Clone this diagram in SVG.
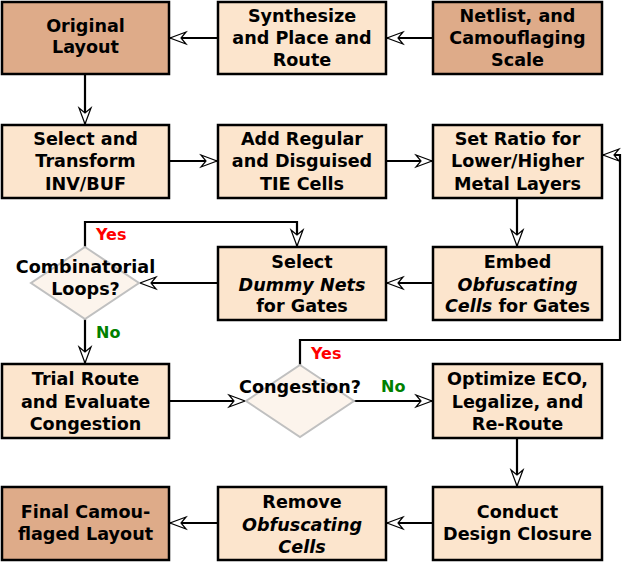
<svg xmlns="http://www.w3.org/2000/svg" width="623" height="562" viewBox="0 0 623 562">
<style>
.box{stroke:#000;stroke-width:2.5}
.lt{fill:#fce5cd}
.dk{fill:#deab89}
.dia{fill:#fcf4ec;stroke:#c0c0c0;stroke-width:2}
text{font-family:"DejaVu Sans","Liberation Sans",sans-serif;font-weight:bold;font-size:17.6px;text-anchor:middle;fill:#000}
.i{font-style:italic}
.yes{fill:#ff0000;font-size:16px;text-anchor:start}
.no{fill:#008000;font-size:16px;text-anchor:start}
.c{fill:none;stroke:#000;stroke-width:2.2;marker-end:url(#ah)}
</style>
<defs>
<marker id="ah" markerUnits="userSpaceOnUse" markerWidth="18" markerHeight="14" refX="16" refY="6" orient="auto" overflow="visible">
<path d="M0,0 L16,6 L0,12 L5,6 Z" fill="#fff" stroke="#000" stroke-width="1.2" stroke-linejoin="miter"/>
</marker>
</defs>
<g id="connectors">
<path class="c" d="M218,38 H170"/>
<path class="c" d="M433,38 H387"/>
<path class="c" d="M85,74 V124"/>
<path class="c" d="M169,161 H217"/>
<path class="c" d="M386,161 H432"/>
<path class="c" d="M517,198 V246"/>
<path class="c" d="M433,283 H387"/>
<path class="c" d="M218,283 H140"/>
<path class="c" d="M85,247 V222 H297 V246"/>
<path class="c" d="M85,319 V363"/>
<path class="c" d="M169,401 H245"/>
<path class="c" d="M354,401 H432"/>
<path class="c" d="M300,365 V340 H620 V155 H603"/>
<path class="c" d="M517,438 V486"/>
<path class="c" d="M433,523 H387"/>
<path class="c" d="M218,523 H170"/>
<text class="yes" x="96" y="240">Yes</text>
<text class="no" x="96" y="338">No</text>
<text class="yes" x="311" y="359">Yes</text>
<text class="no" x="381" y="392">No</text>
</g>
<g id="original">
<rect class="box dk" x="2" y="2" width="167" height="72"/>
<text x="85.5" y="32">Original</text>
<text x="85.5" y="53">Layout</text>
</g>
<g id="synth">
<rect class="box lt" x="218" y="2" width="168" height="72"/>
<text x="302" y="22">Synthesize</text>
<text x="302" y="44">and Place and</text>
<text x="302" y="66">Route</text>
</g>
<g id="netlist">
<rect class="box dk" x="433" y="2" width="169" height="72"/>
<text x="517.5" y="22">Netlist, and</text>
<text x="517.5" y="44">Camouflaging</text>
<text x="517.5" y="66">Scale</text>
</g>
<g id="select">
<rect class="box lt" x="2" y="125" width="167" height="73"/>
<text x="85.5" y="145">Select and</text>
<text x="85.5" y="167">Transform</text>
<text x="85.5" y="189.5">INV/BUF</text>
</g>
<g id="addtie">
<rect class="box lt" x="218" y="125" width="168" height="73"/>
<text x="302" y="145">Add Regular</text>
<text x="302" y="167">and Disguised</text>
<text x="302" y="189.5">TIE Cells</text>
</g>
<g id="ratio">
<rect class="box lt" x="433" y="125" width="169" height="73"/>
<text x="517.5" y="145">Set Ratio for</text>
<text x="517.5" y="167">Lower/Higher</text>
<text x="517.5" y="189.5">Metal Layers</text>
</g>
<g id="dummy">
<rect class="box lt" x="218" y="247" width="168" height="73"/>
<text x="302" y="268">Select</text>
<text x="302" y="290.5"><tspan class="i">Dummy Nets</tspan></text>
<text x="302" y="312">for Gates</text>
</g>
<g id="embed">
<rect class="box lt" x="433" y="247" width="169" height="73"/>
<text x="517.5" y="268">Embed</text>
<text x="517.5" y="290.5" class="i">Obfuscating</text>
<text x="517.5" y="312"><tspan class="i">Cells</tspan> for Gates</text>
</g>
<g id="loops">
<polygon class="dia" points="85,247 139,283 85,319 31,283"/>
<text x="85.5" y="273">Combinatorial</text>
<text x="85.5" y="295">Loops?</text>
</g>
<g id="trial">
<rect class="box lt" x="2" y="364" width="167" height="74"/>
<text x="85.5" y="385">Trial Route</text>
<text x="85.5" y="407.5">and Evaluate</text>
<text x="85.5" y="429.5">Congestion</text>
</g>
<g id="congestion">
<polygon class="dia" points="300,365 354,401 300,437 246,401"/>
<text x="300" y="392.5">Congestion?</text>
</g>
<g id="optimize">
<rect class="box lt" x="433" y="364" width="169" height="74"/>
<text x="517.5" y="385">Optimize ECO,</text>
<text x="517.5" y="407.5">Legalize, and</text>
<text x="517.5" y="429.5">Re-Route</text>
</g>
<g id="final">
<rect class="box dk" x="2" y="487" width="167" height="73"/>
<text x="85.5" y="518">Final Camou-</text>
<text x="85.5" y="539.5">flaged Layout</text>
</g>
<g id="remove">
<rect class="box lt" x="218" y="487" width="168" height="73"/>
<text x="302" y="508">Remove</text>
<text x="302" y="530.5" class="i">Obfuscating</text>
<text x="302" y="552.5" class="i">Cells</text>
</g>
<g id="closure">
<rect class="box lt" x="433" y="487" width="169" height="73"/>
<text x="517.5" y="518">Conduct</text>
<text x="517.5" y="539.5">Design Closure</text>
</g>
</svg>
